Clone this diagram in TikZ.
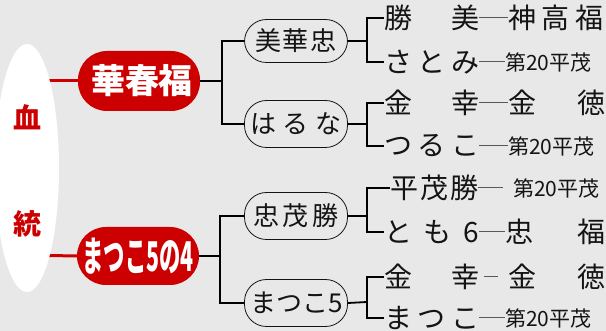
\documentclass[tikz,border=0pt]{standalone}
\usepackage{fontspec}
\setmainfont{Noto Sans CJK JP}
\usetikzlibrary{shapes.geometric}
\definecolor{bg}{RGB}{232,232,232}
\definecolor{blood}{RGB}{204,0,0}
\definecolor{ink}{RGB}{20,20,20}
\newcommand{\spreadtxt}[2]{\makebox[#1pt][s]{#2}}
\begin{document}
\begin{tikzpicture}[x=1pt,y=-1pt,
  redbox/.style={rounded corners=29pt, fill=blood, text=white, minimum width=122pt, minimum height=60pt, inner sep=0pt, font=\bfseries\fontsize{34}{34}\selectfont},
  ovalbox/.style={draw=ink, line width=0.8pt, rounded corners=22pt, minimum width=103pt, minimum height=47pt, inner sep=0pt, text=ink, font=\fontsize{26}{26}\selectfont},
  lefttxt/.style={anchor=west, inner sep=0pt, text=ink, font=\fontsize{28}{28}\selectfont},
  smalltxt/.style={anchor=west, inner sep=0pt, text=ink, font=\fontsize{21}{21}\selectfont},
  redline/.style={draw=blood, line width=3pt},
  bigbracket/.style={draw=black, line width=2.5pt},
  midbracket/.style={draw=black, line width=1.8pt},
  rowline/.style={draw=black!65, line width=1pt},
  bloodchar/.style={text=blood, inner sep=0pt, font=\bfseries\fontsize{28}{28}\selectfont}
]
\fill[bg] (0,0) rectangle (606,331);
\useasboundingbox (0,0) rectangle (606,331);

% red nodes and red lines (under ellipse)
\node[redbox] (r1) at (139,81) {\spreadtxt{96}{華\hfill 春\hfill 福}};
\node[redbox, minimum height=58pt] (r2) at (138,256) {\scalebox{0.52}[1]{\fontsize{41}{41}\selectfont まつこ5の4}};
\coordinate (e1) at (20,81);
\coordinate (e2) at (20,255);
\draw[redline] (e1) -- (r1.west);
\draw[redline] (e2) -- (r2.west);

% ellipse
\node[ellipse, fill=white, minimum width=64pt, minimum height=248pt, inner sep=0pt] (ell) at (27,168) {};
\node[bloodchar] (c1) at (27,117) {血};
\node[bloodchar] (c2) at (27,224) {統};

% ovals
\node[ovalbox, minimum height=43pt] (o1) at (296,41) {\spreadtxt{82}{美\hfill 華\hfill 忠}};
\node[ovalbox] (o2) at (296,124) {\spreadtxt{92}{は\hfill る\hfill な}};
\node[ovalbox] (o3) at (296,216) {\spreadtxt{86}{忠\hfill 茂\hfill 勝}};
\node[ovalbox] (o4) at (296,303) {\spreadtxt{92}{ま\hfill つ\hfill こ\hfill 5}};

% brackets from red nodes
\coordinate (j1) at (222,81);
\coordinate (j2) at (220,256);
\draw[bigbracket] (r1.east) -- (j1);
\draw[bigbracket] (o1.west) -- (o1.west -| j1) -- (o2.west -| j1) -- (o2.west);
\draw[bigbracket] (r2.east) -- (j2);
\draw[bigbracket] (o3.west) -- (o3.west -| j2) -- (o4.west -| j2) -- (o4.west);

% rows: left texts
\node[lefttxt] (l1) at (384,18) {\spreadtxt{95}{勝\hfill 美}};
\node[lefttxt] (l2) at (384,62) {\spreadtxt{95}{さ\hfill と\hfill み}};
\node[lefttxt] (l3) at (384,103) {\spreadtxt{95}{金\hfill 幸}};
\node[lefttxt] (l4) at (384,146) {\spreadtxt{95}{つ\hfill る\hfill こ}};
\node[lefttxt] (l5) at (390,188) {\spreadtxt{88}{平\hfill 茂\hfill 勝}};
\node[lefttxt] (l6) at (384,232) {\spreadtxt{95}{と\hfill も\hfill 6}};
\node[lefttxt] (l7) at (384,277) {\spreadtxt{95}{金\hfill 幸}};
\node[lefttxt] (l8) at (384,318) {\spreadtxt{95}{ま\hfill つ\hfill こ}};

% rows: right texts
\node[lefttxt] (m1) at (508,18) {\spreadtxt{95}{神\hfill 高\hfill 福}};
\node[smalltxt] (m2) at (505,62) {第20平茂};
\node[lefttxt] (m3) at (508,103) {\spreadtxt{97}{金\hfill 徳}};
\node[smalltxt] (m4) at (508,146) {第20平茂};
\node[smalltxt] (m5) at (513,188) {第20平茂};
\node[lefttxt] (m6) at (505,232) {\spreadtxt{100}{忠\hfill 福}};
\node[lefttxt] (m7) at (508,277) {\spreadtxt{97}{金\hfill 徳}};
\node[smalltxt] (m8) at (505,318) {第20平茂};

% row connectors
\draw[rowline] (l1.east) -- (m1.west);
\draw[rowline] (l2.east) -- (m2.west);
\draw[rowline] (l3.east) -- (m3.west);
\draw[rowline] (l4.east) -- (m4.west);
\draw[rowline, shorten >=10pt] (l5.east) -- (m5.west);
\draw[rowline] (l6.east) -- (m6.west);
\draw[rowline, shorten <=5pt, shorten >=10pt] (l7.east) -- (m7.west);
\draw[rowline] (l8.east) -- (m8.west);

% brackets from ovals to rows
\coordinate (k1) at (367,41);
\coordinate (k2) at (367,124);
\coordinate (k3) at (367,216);
\coordinate (k4) at (367,302);
\draw[midbracket] (o1.east) -- (k1);
\draw[midbracket] (o2.east) -- (k2);
\draw[midbracket] (o3.east) -- (k3);
\draw[midbracket] (o4.east) -- (k4);
\draw[midbracket] (l1.west) -- (l1.west -| k1) -- (l2.west -| k1) -- (l2.west);
\draw[midbracket] (l3.west) -- (l3.west -| k2) -- (l4.west -| k2) -- (l4.west);
\draw[midbracket] (l5.west) -- (l5.west -| k3) -- (l6.west -| k3) -- (l6.west);
\draw[midbracket] (l7.west) -- (l7.west -| k4) -- (l8.west -| k4) -- (l8.west);
\end{tikzpicture}
\end{document}
